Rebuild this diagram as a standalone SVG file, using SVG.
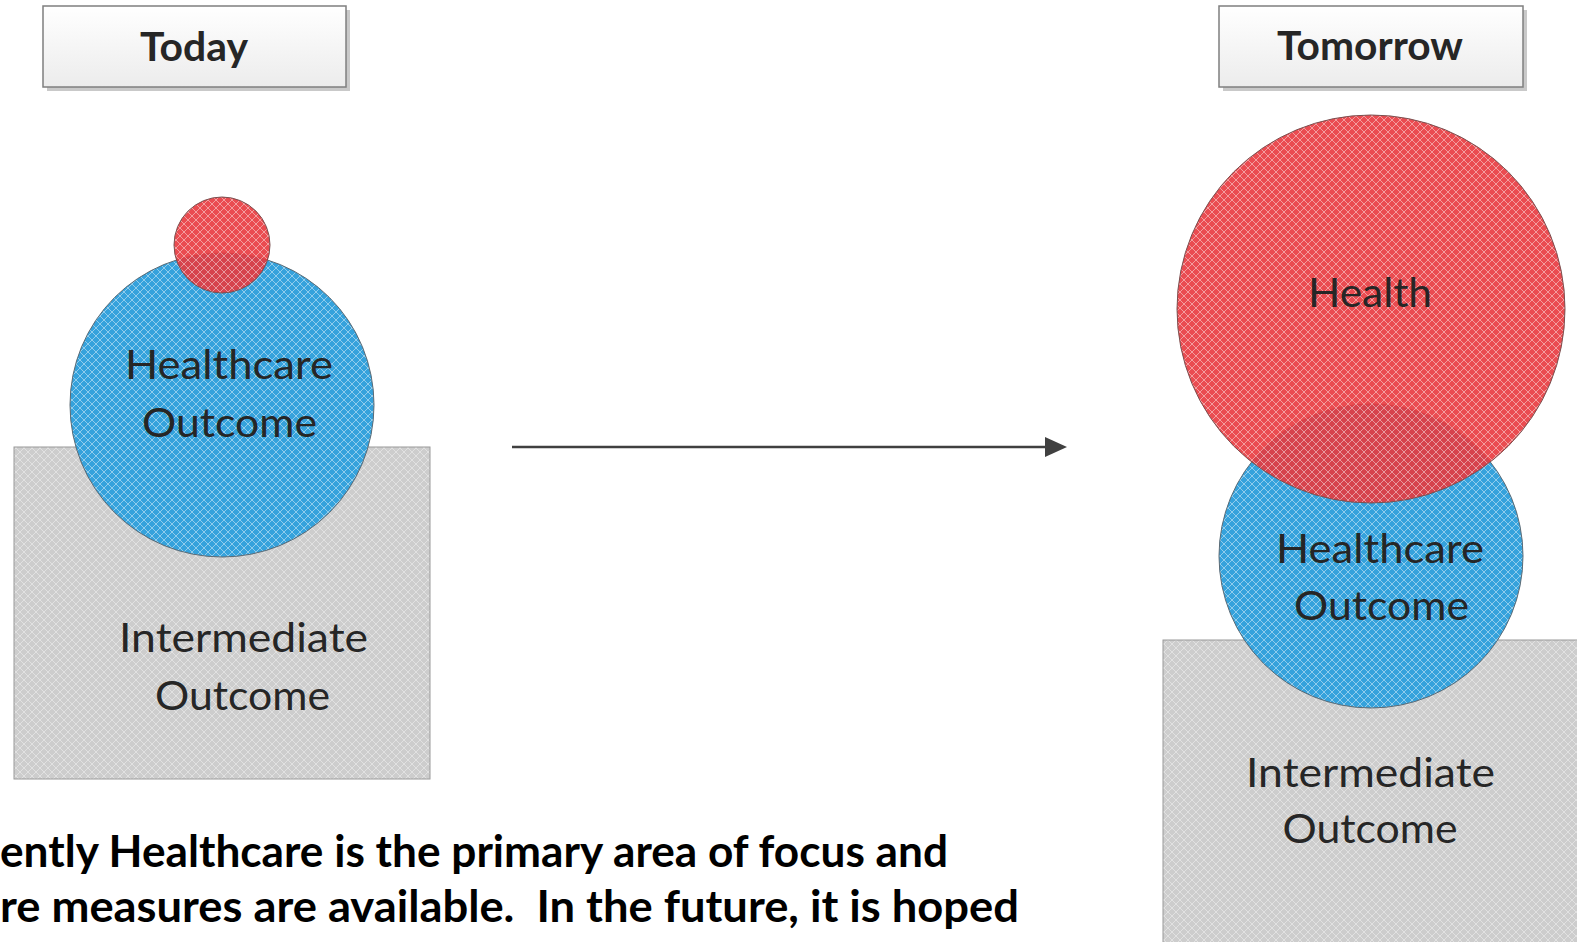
<svg xmlns="http://www.w3.org/2000/svg" width="1577" height="942" viewBox="0 0 1577 942">
<style>
.title{font-family:Lato,"Open Sans","Liberation Sans",sans-serif;font-weight:bold;font-size:41px;fill:#262626;text-anchor:middle}
.lbl{font-family:Lato,"Open Sans","Liberation Sans",sans-serif;font-size:40px;fill:#262626;text-anchor:middle}
.note{font-family:Lato,"Open Sans","Liberation Sans",sans-serif;font-weight:bold;font-size:44px;fill:#000}
.tbox{fill:url(#boxg);stroke:#7f7f7f;stroke-width:1.5}
.shadow{fill:#c9c9c9}
.grey{fill:url(#pGrey);stroke:#9a9a9a;stroke-width:1}
.blue{fill:url(#pBlue);stroke:#5a6a75;stroke-width:1}
.red{fill:url(#pRed);fill-opacity:0.9;stroke:#7a5050;stroke-width:1}
.conn{stroke:#404040;stroke-width:2.5;fill:none}
</style>
<defs>
<linearGradient id="boxg" x1="0" y1="0" x2="0" y2="1">
<stop offset="0" stop-color="#ffffff"/>
<stop offset="1" stop-color="#ececec"/>
</linearGradient>
<pattern id="pRed" width="8" height="8" patternUnits="userSpaceOnUse">
<rect width="8" height="8" fill="#e8393e"/>
<path d="M0 0L8 8M8 0L0 8" stroke="#ffffff" stroke-opacity="0.45" stroke-width="1"/>
</pattern>
<pattern id="pBlue" width="8" height="8" patternUnits="userSpaceOnUse">
<rect width="8" height="8" fill="#35a2dc"/>
<path d="M0 0L8 8M8 0L0 8" stroke="#ffffff" stroke-opacity="0.45" stroke-width="1"/>
</pattern>
<pattern id="pGrey" width="8" height="8" patternUnits="userSpaceOnUse">
<rect width="8" height="8" fill="#cdcdcd"/>
<path d="M0 0L8 8M8 0L0 8" stroke="#ffffff" stroke-opacity="0.4" stroke-width="1"/>
</pattern>
</defs>
<rect width="1577" height="942" fill="#ffffff"/>

<g id="today">
<rect class="shadow" x="47" y="10" width="303" height="81"/>
<rect class="tbox" x="43" y="6" width="303" height="81"/>
<text class="title" x="194" y="61" textLength="108" lengthAdjust="spacingAndGlyphs">Today</text>
</g>

<g id="tomorrow">
<rect class="shadow" x="1223" y="10" width="304" height="81"/>
<rect class="tbox" x="1219" y="6" width="304" height="81"/>
<text class="title" x="1370" y="60" textLength="186" lengthAdjust="spacingAndGlyphs">Tomorrow</text>
</g>

<g id="today-intermediate">
<rect class="grey" x="14" y="447" width="416" height="332"/>
<text class="lbl" x="243.5" y="652" textLength="249" lengthAdjust="spacingAndGlyphs">Intermediate</text>
<text class="lbl" x="242.5" y="710" textLength="175" lengthAdjust="spacingAndGlyphs">Outcome</text>
</g>

<g id="today-healthcare">
<circle class="blue" cx="222" cy="405" r="152"/>
<text class="lbl" x="229" y="379" textLength="208" lengthAdjust="spacingAndGlyphs">Healthcare</text>
<text class="lbl" x="229.5" y="437" textLength="175" lengthAdjust="spacingAndGlyphs">Outcome</text>
</g>

<g id="today-health">
<circle class="red" cx="222" cy="245" r="48"/>
</g>

<g id="tomorrow-intermediate">
<rect class="grey" x="1163" y="640" width="420" height="310"/>
<text class="lbl" x="1370.5" y="787" textLength="249" lengthAdjust="spacingAndGlyphs">Intermediate</text>
<text class="lbl" x="1370" y="843" textLength="175" lengthAdjust="spacingAndGlyphs">Outcome</text>
</g>

<g id="tomorrow-healthcare">
<circle class="blue" cx="1371" cy="556" r="152"/>
<text class="lbl" x="1380" y="563" textLength="208" lengthAdjust="spacingAndGlyphs">Healthcare</text>
<text class="lbl" x="1381.5" y="620" textLength="175" lengthAdjust="spacingAndGlyphs">Outcome</text>
</g>

<g id="tomorrow-health">
<circle class="red" cx="1371" cy="309" r="194"/>
<text class="lbl" x="1370" y="307" textLength="124" lengthAdjust="spacingAndGlyphs">Health</text>
</g>

<g id="connectors">
<line class="conn" x1="512" y1="447" x2="1047" y2="447"/>
<polygon points="1045,437 1067,447 1045,457" fill="#404040"/>
</g>

<g id="caption">
<text class="note" x="0" y="867" textLength="948" lengthAdjust="spacingAndGlyphs">ently Healthcare is the primary area of focus and</text>
<text class="note" x="0" y="922" textLength="1019" lengthAdjust="spacingAndGlyphs" xml:space="preserve">re measures are available.  In the future, it is hoped</text>
</g>
</svg>
